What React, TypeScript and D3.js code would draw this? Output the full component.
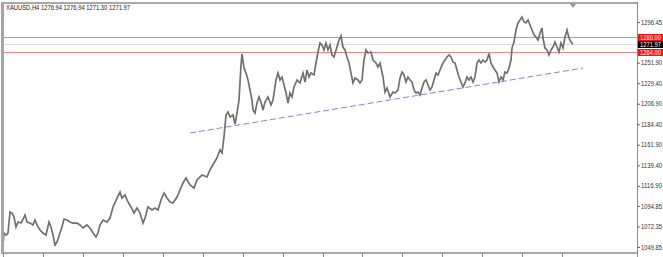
import React, { useEffect, useRef } from "react";
import * as d3 from "d3";

const title = "XAUUSD,H4  1276.94 1276.94 1271.30 1271.97";

// [bar number, close price]
const series: [number, number][] = [
  [3,1052.0],[4,1065.2],[6,1063.0],[8,1065.2],[10,1088.2],[12,1087.1],[14,1082.7],[16,1071.8],[18,1077.2],[21,1076.1],
  [23,1080.5],[25,1084.9],[27,1077.2],[30,1076.1],[33,1074.0],[35,1079.4],[37,1074.0],[40,1068.5],[43,1065.2],[46,1063.0],
  [49,1077.2],[51,1071.8],[53,1063.0],[55,1052.0],[57,1055.3],[60,1065.2],[62,1071.8],[64,1080.5],[67,1079.4],[70,1077.2],
  [73,1076.1],[77,1076.1],[80,1074.0],[83,1070.7],[87,1074.0],[90,1070.7],[93,1065.2],[96,1060.8],[98,1065.2],[100,1074.0],
  [103,1079.4],[107,1077.2],[110,1081.6],[113,1093.7],[117,1103.5],[120,1110.1],[122,1103.5],[125,1106.8],[128,1099.2],[131,1093.7],
  [134,1087.1],[137,1092.6],[140,1087.1],[143,1076.1],[145,1081.6],[148,1093.7],[152,1090.4],[155,1092.6],[158,1090.4],[161,1101.4],
  [164,1109.0],[167,1103.5],[170,1099.2],[173,1098.1],[177,1104.6],[180,1112.3],[183,1120.0],[186,1125.5],[190,1117.8],[194,1114.5],
  [197,1123.3],[202,1128.8],[207,1126.6],[210,1134.3],[214,1141.9],[217,1147.4],[220,1156.2],[222,1152.9],[224,1170.4],[226,1194.5],
  [228,1197.8],[230,1192.3],[233,1194.5],[235,1184.6],[237,1196.7],[239,1210.9],[241,1249.3],[242,1261.4],[244,1246.0],[246,1240.5],
  [248,1232.9],[250,1221.9],[252,1210.9],[253,1200.0],[255,1196.7],[257,1207.7],[259,1214.3],[261,1208.8],[263,1200.0],[265,1208.8],
  [268,1214.3],[271,1205.5],[273,1210.9],[276,1232.9],[278,1240.5],[280,1232.9],[282,1236.2],[284,1227.4],[286,1218.6],[288,1207.7],
  [290,1218.6],[292,1214.3],[294,1225.2],[297,1232.9],[300,1229.6],[303,1240.5],[305,1230.7],[307,1243.8],[309,1236.2],[311,1240.5],
  [314,1238.4],[316,1251.5],[318,1263.6],[320,1273.4],[322,1271.2],[324,1265.8],[326,1273.4],[328,1265.8],[330,1271.2],[332,1260.3],
  [334,1258.1],[337,1269.0],[339,1276.7],[341,1281.1],[343,1269.0],[345,1265.8],[347,1258.1],[349,1251.5],[351,1240.5],[353,1229.6],
  [355,1235.1],[358,1232.9],[360,1229.6],[362,1232.9],[364,1254.8],[366,1265.8],[368,1262.5],[371,1263.6],[373,1254.8],[376,1251.5],
  [378,1247.1],[380,1251.5],[383,1236.2],[385,1219.7],[387,1224.1],[390,1214.3],[393,1219.7],[395,1218.6],[398,1221.9],[400,1235.1],
  [402,1241.6],[404,1238.4],[406,1230.7],[408,1236.2],[410,1232.9],[412,1230.7],[414,1221.9],[416,1218.6],[418,1219.7],[420,1216.5],
  [422,1224.1],[424,1230.7],[426,1232.9],[428,1227.4],[430,1221.9],[432,1225.2],[434,1232.9],[436,1240.5],[438,1238.4],[440,1243.8],
  [443,1251.5],[445,1254.8],[447,1258.1],[449,1260.3],[451,1258.1],[453,1252.6],[455,1251.5],[457,1243.8],[459,1236.2],[461,1230.7],
  [463,1225.2],[465,1229.6],[467,1236.2],[469,1232.9],[471,1236.2],[473,1230.7],[475,1236.2],[477,1251.5],[479,1254.8],[481,1251.5],
  [483,1254.8],[485,1252.6],[487,1254.8],[489,1262.0],[491,1251.5],[493,1247.1],[495,1243.8],[497,1240.5],[499,1230.7],[501,1236.2],
  [503,1232.9],[505,1241.6],[507,1240.5],[509,1246.0],[511,1254.8],[512,1267.9],[514,1274.5],[516,1287.7],[518,1295.4],[520,1298.6],
  [522,1301.9],[524,1296.5],[526,1295.4],[528,1298.6],[530,1293.2],[532,1287.7],[534,1282.2],[536,1280.0],[538,1276.7],[540,1284.4],
  [542,1289.9],[543,1278.9],[545,1267.9],[547,1265.8],[549,1260.3],[551,1265.8],[553,1269.0],[555,1274.5],[557,1269.0],[559,1263.6],
  [561,1273.4],[563,1267.9],[565,1280.0],[567,1287.7],[569,1278.9],[571,1274.5],[573,1272.0],
];

const priceTicks = [1296.45, 1251.9, 1229.4, 1206.9, 1184.4, 1161.9, 1139.4, 1116.9, 1094.85, 1072.35, 1049.85];
const timeTicks = [3, 43, 83, 123, 163, 203, 243, 283, 323, 362, 402, 442, 482, 522, 562];
const levels = [1280.0, 1264.0];
const bid = 1271.97;
const trendline: [number, number][] = [[190, 1174.8], [583, 1246.0]];
const shiftBar = 573;

const W = 663, H = 257;
const plot = { left: 3, right: 637, top: 3, bottom: 253 };
const FONT = "Liberation Sans, Arial, sans-serif";

export default function App() {
  const ref = useRef<SVGSVGElement>(null);
  useEffect(() => {
    const svg = d3.select(ref.current);
    svg.selectAll("*").remove();
    const x = d3.scaleLinear().domain([3, 637]).range([plot.left, plot.right]);
    const y = d3.scaleLinear().domain([1049.85, 1296.45]).range([247, 22]);

    svg.append("rect").attr("width", W).attr("height", H).attr("fill", "#fff");

    // horizontal levels
    levels.forEach((l) => {
      svg.append("line").attr("x1", plot.left).attr("x2", plot.right)
        .attr("y1", Math.round(y(l)) + 0.5).attr("y2", Math.round(y(l)) + 0.5)
        .attr("stroke", "#ef8585").attr("stroke-width", 1);
    });
    svg.append("line").attr("x1", plot.left).attr("x2", plot.right)
      .attr("y1", Math.round(y(bid)) + 0.5).attr("y2", Math.round(y(bid)) + 0.5)
      .attr("stroke", "#d3e0e6").attr("stroke-width", 1);

    // trendline
    svg.append("line")
      .attr("x1", x(trendline[0][0])).attr("y1", y(trendline[0][1]))
      .attr("x2", x(trendline[1][0])).attr("y2", y(trendline[1][1]))
      .attr("stroke", "#8484ea").attr("stroke-width", 1).attr("stroke-dasharray", "6,3");

    // price line
    const line = d3.line<[number, number]>().x((d) => x(d[0])).y((d) => y(d[1]));
    svg.append("path").attr("d", line(series)!).attr("fill", "none")
      .attr("stroke", "#707070").attr("stroke-width", 1.7).attr("stroke-linejoin", "miter");

    // frame
    svg.append("rect").attr("x", 1).attr("y", 2).attr("width", 3).attr("height", plot.bottom - 2).attr("fill", "#a6a6a6");
    svg.append("line").attr("x1", 1).attr("x2", plot.right).attr("y1", 3).attr("y2", 3).attr("stroke", "#a8a8a8").attr("stroke-width", 2);
    svg.append("line").attr("x1", plot.right + 0.5).attr("x2", plot.right + 0.5).attr("y1", 2).attr("y2", H).attr("stroke", "#8a8a8a");
    svg.append("line").attr("x1", 1).attr("x2", plot.right).attr("y1", plot.bottom).attr("y2", plot.bottom).attr("stroke", "#a8a8a8").attr("stroke-width", 2);

    // bottom ticks
    const bx = svg.append("g").attr("transform", `translate(0,${plot.bottom})`)
      .call(d3.axisBottom(x).tickValues(timeTicks).tickSize(4).tickFormat(() => ""));
    bx.select(".domain").remove();
    bx.selectAll("line").attr("stroke", "#888");

    // right axis
    const ry = svg.append("g").attr("transform", `translate(${plot.right},0)`)
      .call(d3.axisRight(y).tickValues(priceTicks).tickSize(3).tickPadding(1).tickFormat((d) => (d as number).toFixed(2)));
    ry.select(".domain").remove();
    ry.selectAll("line").attr("stroke", "#666");
    ry.selectAll("text").attr("fill", "#333").attr("font-size", 6.5).attr("font-family", FONT)
      .attr("textLength", 21).attr("lengthAdjust", "spacingAndGlyphs");

    // price labels
    const labels: [number, string][] = [[levels[0], "#ff1010"], [bid, "#000"], [levels[1], "#ff1010"]];
    labels.forEach(([v, c]) => {
      const cy = Math.round(y(v)) + 0.5;
      svg.append("rect").attr("x", plot.right + 1).attr("y", cy - 3.5).attr("width", W - plot.right - 1).attr("height", 7).attr("fill", c);
      svg.append("text").attr("x", plot.right + 3).attr("y", cy + 2.3).attr("fill", "#fff")
        .attr("font-size", 6.5).attr("font-family", FONT).attr("textLength", 21).attr("lengthAdjust", "spacingAndGlyphs").text(v.toFixed(2));
    });

    // chart shift marker
    const sx = x(shiftBar);
    svg.append("path").attr("d", `M${sx - 3},4 L${sx + 3},4 L${sx},8 Z`).attr("fill", "#999");

    // title
    svg.append("text").attr("x", 6).attr("y", 10).attr("fill", "#222").attr("font-size", 6.5)
      .attr("font-family", FONT).attr("textLength", 124).attr("lengthAdjust", "spacingAndGlyphs").text(title);
  }, []);
  return (
    <svg ref={ref} width={W} height={H} style={{ position: "absolute", left: 0, top: 0, display: "block" }} />
  );
}
